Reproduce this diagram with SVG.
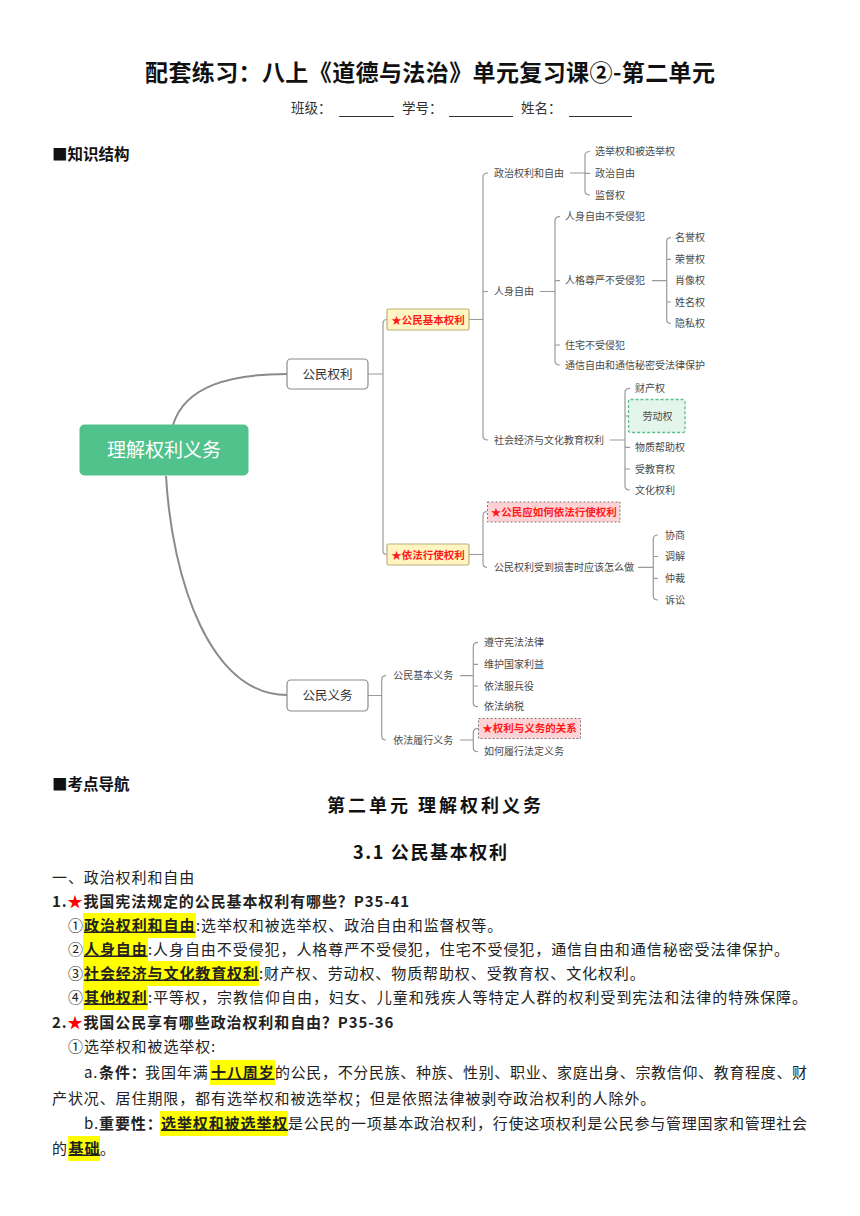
<svg xmlns="http://www.w3.org/2000/svg" width="860" height="1216" viewBox="0 0 860 1216">
<style>
text{font-family:"Noto Sans CJK SC","Noto Sans",sans-serif}
.mm{font-size:10px;fill:#4a4a4a}
.br{fill:none;stroke:#9a9a9a;stroke-width:1.2}
.cv{fill:none;stroke:#8a8a8a;stroke-width:2}
.box{fill:#fff;stroke:#8a8a8a;stroke-width:1.2}
.bt{font-size:12.5px;fill:#333;text-anchor:middle}
.yb{fill:#fff5c2;stroke:#bdb078;stroke-width:1.2}
.pb{fill:#ffd3d5;stroke:#777;stroke-width:1;stroke-dasharray:2 2}
.rt{font-size:10.5px;font-weight:bold;fill:#ff1a1a;text-anchor:middle}
.body{font-size:15px;fill:#222;letter-spacing:0.9px}
.b{font-weight:bold}
.u{text-decoration:underline}
.hl{fill:#ffff00}
.star{fill:#ff0000}
.h{font-size:15.5px;font-weight:bold;fill:#111}
</style>

<text x="430" y="81" text-anchor="middle" font-size="23" font-weight="bold" fill="#111" textLength="570" lengthAdjust="spacing">配套练习：八上《道德与法治》单元复习课②-第二单元</text>
<g font-size="13.5" fill="#333">
<text x="291" y="113">班级：</text>
<text x="402" y="113">学号：</text>
<text x="521" y="113">姓名：</text>
</g>
<g stroke="#333" stroke-width="1">
<line x1="339" y1="116.5" x2="394" y2="116.5"/>
<line x1="449" y1="116.5" x2="513" y2="116.5"/>
<line x1="569" y1="116.5" x2="632" y2="116.5"/>
</g>
<text x="52" y="160" class="h">■知识结构</text>

<g id="connectors">
<path class="cv" d="M173,425 C185,386 230,374 287,374"/>
<path class="cv" d="M166,476 C172,580 210,695 287,695"/>
<path class="br" d="M368,374 H383 M387,319.5 Q383,319.5 383,323.5 V550.5 Q383,554.5 387,554.5"/>
<path class="br" d="M469,319.5 H483 M488,173 Q483,173 483,177 V436 Q483,440 488,440 M483,291.5 H488"/>
<path class="br" d="M570,173 H585 M590,151.5 Q585,151.5 585,155.5 V191 Q585,195 590,195 M585,173.3 H590"/>
<path class="br" d="M540,291.5 H555 M560,216.7 Q555,216.7 555,220.7 V361 Q555,365 560,365 M555,280.7 H560 M555,345 H560"/>
<path class="br" d="M652,280.7 H666.7 M671,237.7 Q666.7,237.7 666.7,241.7 V319.5 Q666.7,323.5 671,323.5 M666.7,259.3 H671 M666.7,302 H671"/>
<path class="br" d="M610,440 H625 M630,388.3 Q625,388.3 625,392.3 V486 Q625,490 630,490 M625,416 H633 M625,447.3 H630 M625,469 H630"/>
<path class="br" d="M469,554.5 H483 M487,511.7 Q483,511.7 483,515.7 V563.3 Q483,567.3 487,567.3"/>
<path class="br" d="M638,567.3 H653.3 M658,535 Q653.3,535 653.3,539 V596 Q653.3,600 658,600 M653.3,556.5 H658 M653.3,578.3 H658"/>
<path class="br" d="M368,695.5 H381.7 M386,675.7 Q381.7,675.7 381.7,679.7 V736 Q381.7,740 386,740"/>
<path class="br" d="M460,675.7 H473.3 M478,642.3 Q473.3,642.3 473.3,646.3 V702.7 Q473.3,706.7 478,706.7 M473.3,664.3 H478 M473.3,686 H478"/>
<path class="br" d="M460,740 H473.3 M478.5,728.3 Q473.3,728.3 473.3,732.3 V747.7 Q473.3,751.7 478,751.7"/>
</g>

<g id="n-root"><rect x="79.5" y="424.5" width="169" height="51" rx="5" fill="#52c28d"/><text x="164" y="457" font-size="19" fill="#fff" text-anchor="middle">理解权利义务</text></g>
<g id="n-gmql"><rect class="box" x="287" y="359" width="81" height="30" rx="4"/><text class="bt" x="327.5" y="378.5">公民权利</text></g>
<g id="n-gmyw"><rect class="box" x="287" y="680" width="81" height="31" rx="4"/><text class="bt" x="327.5" y="700">公民义务</text></g>
<g id="n-jbql"><rect class="yb" x="387" y="309" width="82" height="21" rx="1.5"/><text class="rt" x="428" y="323.5">★公民基本权利</text></g>
<g id="n-yfxs"><rect class="yb" x="387" y="544" width="82" height="21" rx="1.5"/><text class="rt" x="428" y="558.5">★依法行使权利</text></g>
<g id="n-zzql"><text class="mm" x="494" y="176.5">政治权利和自由</text></g>
<g id="n-xjq"><text class="mm" x="595" y="155">选举权和被选举权</text></g>
<g id="n-zzzy"><text class="mm" x="595" y="176.8">政治自由</text></g>
<g id="n-jdq"><text class="mm" x="595" y="198.5">监督权</text></g>
<g id="n-rszy"><text class="mm" x="494" y="295">人身自由</text></g>
<g id="n-rs1"><text class="mm" x="565" y="220.2">人身自由不受侵犯</text></g>
<g id="n-rgzy"><text class="mm" x="565" y="284.2">人格尊严不受侵犯</text></g>
<g id="n-zz"><text class="mm" x="565" y="348.5">住宅不受侵犯</text></g>
<g id="n-tx"><text class="mm" x="565" y="368.5">通信自由和通信秘密受法律保护</text></g>
<g id="n-myq"><text class="mm" x="675" y="241.2">名誉权</text></g>
<g id="n-ryq"><text class="mm" x="675" y="262.8">荣誉权</text></g>
<g id="n-xxq"><text class="mm" x="675" y="284.2">肖像权</text></g>
<g id="n-xmq"><text class="mm" x="675" y="305.5">姓名权</text></g>
<g id="n-ysq"><text class="mm" x="675" y="327">隐私权</text></g>
<g id="n-shjj"><text class="mm" x="494" y="443.5">社会经济与文化教育权利</text></g>
<g id="n-ccq"><text class="mm" x="635" y="391.8">财产权</text></g>
<g id="n-ldq"><rect x="628.5" y="399.5" width="56.5" height="33" rx="2" fill="#e4f5eb" stroke="#5cc08c" stroke-width="1.3" stroke-dasharray="3 2"/><text class="mm" x="642.5" y="420" fill="#4a5a50">劳动权</text></g>
<g id="n-wzbz"><text class="mm" x="635" y="450.8">物质帮助权</text></g>
<g id="n-sjyq"><text class="mm" x="635" y="472.5">受教育权</text></g>
<g id="n-whql"><text class="mm" x="635" y="493.5">文化权利</text></g>
<g id="n-rhxs"><rect class="pb" x="487.5" y="502" width="132.5" height="20"/><text class="rt" x="553.7" y="515.8">★公民应如何依法行使权利</text></g>
<g id="n-shs"><text class="mm" x="494" y="570.8">公民权利受到损害时应该怎么做</text></g>
<g id="n-xs"><text class="mm" x="665" y="538.5">协商</text></g>
<g id="n-tj"><text class="mm" x="665" y="560">调解</text></g>
<g id="n-zc"><text class="mm" x="665" y="581.8">仲裁</text></g>
<g id="n-ss"><text class="mm" x="665" y="603.5">诉讼</text></g>
<g id="n-jbyw"><text class="mm" x="393.3" y="679.2">公民基本义务</text></g>
<g id="n-zsxf"><text class="mm" x="484" y="645.8">遵守宪法法律</text></g>
<g id="n-whgj"><text class="mm" x="484" y="667.8">维护国家利益</text></g>
<g id="n-byy"><text class="mm" x="484" y="689.5">依法服兵役</text></g>
<g id="n-ns"><text class="mm" x="484" y="710.2">依法纳税</text></g>
<g id="n-lxyw"><text class="mm" x="393.3" y="743.5">依法履行义务</text></g>
<g id="n-gx"><rect class="pb" x="478.5" y="718.5" width="102" height="20"/><text class="rt" x="529.5" y="732.3">★权利与义务的关系</text></g>
<g id="n-rhlx"><text class="mm" x="484" y="755.2">如何履行法定义务</text></g>

<text x="52" y="790" class="h">■考点导航</text>
<text x="434" y="812" text-anchor="middle" font-size="18" font-weight="bold" fill="#111" textLength="214" lengthAdjust="spacing">第二单元 理解权利义务</text>
<text x="430" y="859" text-anchor="middle" font-size="18" font-weight="bold" fill="#111" textLength="154" lengthAdjust="spacing">3.1 公民基本权利</text>
<text x="52" y="882.5" class="body" fill="#333">一、政治权利和自由</text>

<text x="52" y="906.5" class="body b"><tspan>1.</tspan><tspan class="star">★</tspan><tspan>我国宪法规定的公民基本权利有哪些？P35-41</tspan></text>

<g class="hl">
<rect x="83" y="913" width="113" height="25"/>
<rect x="83" y="937" width="65" height="25"/>
<rect x="83" y="961" width="176" height="25"/>
<rect x="83" y="985" width="65" height="25"/>
<rect x="210" y="1060" width="65" height="25"/>
<rect x="160" y="1111" width="128" height="25"/>
<rect x="68" y="1136" width="32" height="25"/>
</g>

<text x="68" y="930.5" class="body">①</text>
<text x="84" y="930.5" class="body b u">政治权利和自由</text>
<text x="196" y="930.5" class="body">:选举权和被选举权、政治自由和监督权等。</text>

<text x="68" y="954.5" class="body">②</text>
<text x="84" y="954.5" class="body b u">人身自由</text>
<text x="148" y="954.5" class="body" textLength="642" lengthAdjust="spacing">:人身自由不受侵犯，人格尊严不受侵犯，住宅不受侵犯，通信自由和通信秘密受法律保护。</text>

<text x="68" y="978.5" class="body">③</text>
<text x="84" y="978.5" class="body b u">社会经济与文化教育权利</text>
<text x="259" y="978.5" class="body">:财产权、劳动权、物质帮助权、受教育权、文化权利。</text>

<text x="68" y="1002.5" class="body">④</text>
<text x="84" y="1002.5" class="body b u">其他权利</text>
<text x="148" y="1002.5" class="body" textLength="660" lengthAdjust="spacing">:平等权，宗教信仰自由，妇女、儿童和残疾人等特定人群的权利受到宪法和法律的特殊保障。</text>

<text x="52" y="1027.5" class="body b"><tspan>2.</tspan><tspan class="star">★</tspan><tspan>我国公民享有哪些政治权利和自由？P35-36</tspan></text>
<text x="68" y="1051.5" class="body">①选举权和被选举权:</text>

<text x="84" y="1077.5" class="body">a.</text>
<text x="99" y="1077.5" class="body b">条件：</text>
<text x="145" y="1077.5" class="body">我国年满</text>
<text x="211" y="1077.5" class="body b u">十八周岁</text>
<text x="275" y="1077.5" class="body" textLength="533" lengthAdjust="spacing">的公民，不分民族、种族、性别、职业、家庭出身、宗教信仰、教育程度、财</text>
<text x="52" y="1103.5" class="body">产状况、居住期限，都有选举权和被选举权；但是依照法律被剥夺政治权利的人除外。</text>

<text x="84" y="1128.5" class="body">b.</text>
<text x="99" y="1128.5" class="body b">重要性：</text>
<text x="161" y="1128.5" class="body b u">选举权和被选举权</text>
<text x="288" y="1128.5" class="body" textLength="520" lengthAdjust="spacing">是公民的一项基本政治权利，行使这项权利是公民参与管理国家和管理社会</text>
<text x="52" y="1153.5" class="body">的</text>
<text x="68.5" y="1153.5" class="body b u">基础</text>
<text x="100" y="1153.5" class="body">。</text>
</svg>
